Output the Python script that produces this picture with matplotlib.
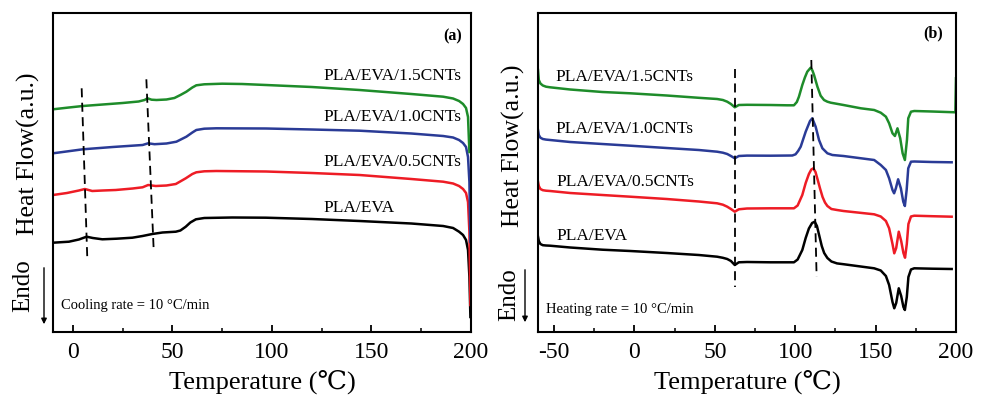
import matplotlib
matplotlib.use("Agg")
import matplotlib.pyplot as plt
from matplotlib.ticker import MultipleLocator

plt.rcParams['font.family'] = ['Liberation Serif', 'DejaVu Serif']
plt.rcParams['axes.unicode_minus'] = False

# ---------------- data (heat flow in arbitrary units, curves stacked) ----------------
names = ['PLA/EVA', 'PLA/EVA/0.5CNTs', 'PLA/EVA/1.0CNTs', 'PLA/EVA/1.5CNTs']
colors = ['black', '#EE1C25', '#2A3B96', '#1E8C2A']

# (a) cooling scans
cool_T_black = [-10, -2, 3, 6.9, 10, 14.8, 22, 29.9, 35, 39.9, 45, 51.7, 54, 56.7, 59, 61.8, 66, 80, 97,
                120, 144, 170, 186, 191, 194, 196, 197.5, 198.5, 199.2, 199.7]
cool_y_black = [89.3, 90.3, 92.5, 95.3, 94, 92.7, 93.3, 94.3, 96, 98, 99.5, 100.3, 101.5, 105.3, 109.5, 112.7,
                114, 114.5, 114.3, 113, 111, 108.5, 106, 104, 100.3, 97, 92, 82, 55, 15]
cool_T_red = [-10, -3, 3, 6, 9.7, 15, 21.5, 30, 35, 37.8, 41.6, 47, 51.7, 56.7, 60, 62, 66, 72, 97,
              120, 144, 170, 186, 191, 194, 196, 197.5, 198.5, 199.2, 199.7]
cool_y_red = [137, 139, 141.5, 143, 141, 141.5, 142, 143.5, 144.7, 147, 146, 146.5, 148, 153.7, 158, 159.7,
              160.7, 161, 160.5, 159, 157, 153, 150.3, 148.5, 146, 143, 139, 130, 100, 27]
cool_T_blue = [-10, 5, 20, 35, 37.8, 41, 47, 52, 57, 60, 62, 66, 72, 97, 120, 144, 170, 186, 191, 194,
               196, 197.5, 198.5, 199.2, 199.7]
cool_y_blue = [178.7, 182.7, 185, 187, 188.7, 187.8, 188.5, 190.3, 195.3, 199.5, 202, 203.3, 203.7, 203.5,
               202.5, 201.3, 198.5, 196, 194.5, 192, 189, 185, 175, 150, 90]
cool_T_green = [-10, -2, 5, 15, 25, 33, 36, 37.5, 39.5, 42, 47, 51, 54, 57, 60, 62, 66, 75, 85, 97, 120,
                144, 170, 186, 191, 194, 196, 197.5, 198.5, 199.2]
cool_y_green = [222.7, 224.5, 226, 227.5, 229, 230.5, 232, 233.7, 232.3, 232, 232.5, 234, 237, 240.3, 244.5,
                246.7, 247.7, 248.3, 248, 247, 245, 242, 238, 235.3, 233.5, 231, 228, 224, 215, 180]

# (b) heating scans
heat_T_black = [-60, -59.5, -58.5, -57, -55, -52.5, -40, -20, -2.6, 20, 40, 51.4, 55, 57.7, 60, 62.4, 64.9,
                70, 84.7, 99.2, 101.5, 104.4, 106.5, 108.5, 110.5, 112.1, 113.5, 115, 116.5, 118, 120,
                122.5, 126, 130, 149.1, 153.2, 156.4, 158.4, 160.5, 161.6, 162.8, 164.4, 165.9, 167.3,
                168.2, 169.4, 170.4, 172, 174, 185, 197.3]
heat_y_black = [95.3, 91, 88, 86.8, 86.5, 86.3, 84.5, 82.3, 81, 79, 77, 75.3, 74.2, 73, 71, 67, 69.7, 70,
                69.7, 69.7, 72.5, 82, 94, 103.5, 109, 110.3, 106, 96, 86, 79, 74, 70.5, 68.6, 67.8, 63.7,
                61.5, 56, 47, 30, 23.7, 29, 43.7, 36, 25, 22, 35, 55, 62.5, 63.7, 63.3, 63]
heat_T_red = [-60, -59.5, -58.5, -57, -55, -52.5, -40, -20, -2.6, 20, 40, 51.4, 55, 57.7, 60, 62.4, 64.9,
              70, 84.7, 99.2, 101.5, 104.4, 106.5, 108.5, 110, 111.3, 112.6, 114, 115.4, 117, 118.5, 120,
              122.5, 126, 130, 149.1, 153.2, 156.4, 158.4, 160.5, 161.6, 162.8, 164.4, 165.9, 167.3,
              168.3, 169.4, 170.4, 172, 174, 185, 197.3]
heat_y_red = [150.3, 146, 143, 141.8, 141.3, 141, 139, 137, 135.3, 133, 130.5, 128.7, 127.3, 125.3, 123,
              120.3, 122.7, 123.5, 123.7, 123.7, 126.5, 137, 149, 158, 162.5, 163.7, 160, 152, 143.7, 135,
              129.5, 126, 123, 122, 121, 117.7, 115.5, 111, 103.7, 88, 78.7, 84, 100.3, 91, 79, 74.3, 88,
              108, 115.5, 116.3, 115.8, 115.3]
heat_T_blue = [-60, -59.5, -58.5, -57, -55, -52.5, -40, -20, -2.6, 20, 40, 51.4, 55, 57.7, 60, 62.4, 64.9,
               70, 84.7, 98.2, 100.2, 101.8, 103.4, 106.5, 109.2, 110.6, 112.7, 114.8, 116.9, 120, 123.1,
               130, 149.1, 153.2, 156.4, 158.4, 160.5, 161.5, 162.6, 164, 165.7, 167.2, 168.2, 169.3,
               170.3, 172, 174, 185, 197.3]
heat_y_blue = [202, 197, 194.3, 193, 192.4, 192, 190, 188, 186.3, 184, 182, 180.3, 179.3, 178, 176, 173.7,
               176, 176.4, 176.3, 176.5, 177.7, 181, 185.3, 200.3, 211, 213.7, 205.3, 192, 183.7, 178.7,
               177, 176, 172, 167, 162, 153.7, 142, 138.7, 143.7, 152.7, 143.7, 130.3, 126, 142, 163.7,
               170.3, 170.5, 170, 169.7]
heat_T_green = [-60, -59.5, -58.5, -57, -55, -52.5, -40, -20, -2.6, 20, 40, 51.4, 55, 57.7, 60, 62.4, 64.9,
                70, 84.7, 95, 99.2, 101, 102.3, 104.4, 106, 107.5, 109.6, 110.7, 111.7, 113.8, 115.8,
                117.9, 120, 122.1, 130, 140.8, 149.1, 153.2, 156.4, 158.4, 160.5, 162, 163.6, 165.3,
                166.8, 168.2, 169.5, 170.3, 172, 174, 185, 199.6, 200]
heat_y_green = [262, 252, 248.5, 246.5, 245.3, 244.7, 242.5, 240, 238.7, 236.5, 234.2, 233, 232, 230.3, 228,
                224.7, 227, 227.2, 227, 226.7, 226.7, 230, 235.3, 247, 254.5, 260.3, 264.3, 261.5, 257,
                245.3, 236.3, 232, 230.3, 229.3, 227, 223.7, 222, 219.3, 215.3, 208.7, 198.7, 196, 203.7,
                193.7, 178.7, 172, 192, 213.7, 220.3, 221, 220.5, 219.7, 253.7]

# dashed guide lines (transition temperatures)
cool_guides_T = [[4.4, 7.2], [36.9, 40.6]]
cool_guides_y = [[243.7, 75.3], [252.7, 81.3]]
heat_guides_T = [[62.4, 62.4], [110, 113.3]]
heat_guides_y = [[262.7, 45.3], [272, 55.3]]

# curve labels
cool_label_T = [126, 126, 126, 126]
cool_label_y = [123.7, 169.7, 215.3, 256]
heat_label_T = [-48.3, -48.3, -49.4, -49.4]
heat_label_y = [96, 150.3, 203, 255.3]

cool_T = [cool_T_black, cool_T_red, cool_T_blue, cool_T_green]
cool_y = [cool_y_black, cool_y_red, cool_y_blue, cool_y_green]
heat_T = [heat_T_black, heat_T_red, heat_T_blue, heat_T_green]
heat_y = [heat_y_black, heat_y_red, heat_y_blue, heat_y_green]

# ---------------- figure ----------------
fig = plt.figure(figsize=(9.88, 3.98), dpi=100)
W, H = 988.0, 398.0
ax1 = fig.add_axes([53 / W, 66 / H, 418 / W, 319 / H])
ax2 = fig.add_axes([538 / W, 66 / H, 418 / W, 319 / H])


def style_axis(ax, xlim, minor):
    ax.set_xlim(*xlim)
    ax.set_ylim(0, 319)
    ax.set_yticks([])
    ax.xaxis.set_major_locator(MultipleLocator(50))
    ax.xaxis.set_minor_locator(MultipleLocator(minor))
    ax.tick_params(axis='x', which='major', direction='in', length=5, width=1.3,
                   labelsize=17, pad=7, top=False)
    ax.tick_params(axis='x', which='minor', direction='in', length=3, width=1.1, top=False)
    for sp in ax.spines.values():
        sp.set_linewidth(1.5)
    ax.set_xlabel('Temperature (℃)', fontsize=19, labelpad=5)


# (a)
for T, y, c in zip(cool_T, cool_y, colors):
    ax1.plot(T, y, color=c, lw=1.8)
for T, y in zip(cool_guides_T, cool_guides_y):
    ax1.plot(T, y, color='black', lw=1.3, linestyle=(0, (5, 3)))
for t, y, n in zip(cool_label_T, cool_label_y, names):
    ax1.text(t, y, n, fontsize=12.5, ha='left', va='center')
ax1.text(-6, 26, 'Cooling rate = 10 °C/min', fontsize=10.5, ha='left', va='center')
ax1.text(0.955, 0.928, '(a)', transform=ax1.transAxes, fontsize=11.5, fontweight='bold',
         ha='center', va='center')
style_axis(ax1, (-10, 200), 25)

# (b)
for T, y, c in zip(heat_T, heat_y, colors):
    ax2.plot(T, y, color=c, lw=1.8)
for T, y in zip(heat_guides_T, heat_guides_y):
    ax2.plot(T, y, color='black', lw=1.3, linestyle=(0, (5, 3)))
for t, y, n in zip(heat_label_T, heat_label_y, names):
    ax2.text(t, y, n, fontsize=12.5, ha='left', va='center')
ax2.text(-55.2, 22, 'Heating rate = 10 °C/min', fontsize=10.5, ha='left', va='center')
ax2.text(0.945, 0.937, '(b)', transform=ax2.transAxes, fontsize=11.5, fontweight='bold',
         ha='center', va='center')
style_axis(ax2, (-60, 200), 25)

# y labels and endo arrows
for x_lab, y_lab, x_endo, y_endo, x_arr, y0, y1 in [(28, 154, 23, 286, 44, 265, 327),
                                                    (513, 146, 509, 295, 525, 267, 325)]:
    fig.text(x_lab / W, 1 - y_lab / H, 'Heat Flow(a.u.)', rotation=90, fontsize=18.5,
             ha='center', va='center')
    fig.text(x_endo / W, 1 - y_endo / H, 'Endo', rotation=90, fontsize=18,
             ha='center', va='center')
    fig.add_artist(matplotlib.patches.FancyArrowPatch(
        (x_arr / W, 1 - y0 / H), (x_arr / W, 1 - y1 / H), transform=fig.transFigure,
        arrowstyle='-|>', mutation_scale=8, lw=1, color='black'))

fig.savefig('out.png', dpi=100)
